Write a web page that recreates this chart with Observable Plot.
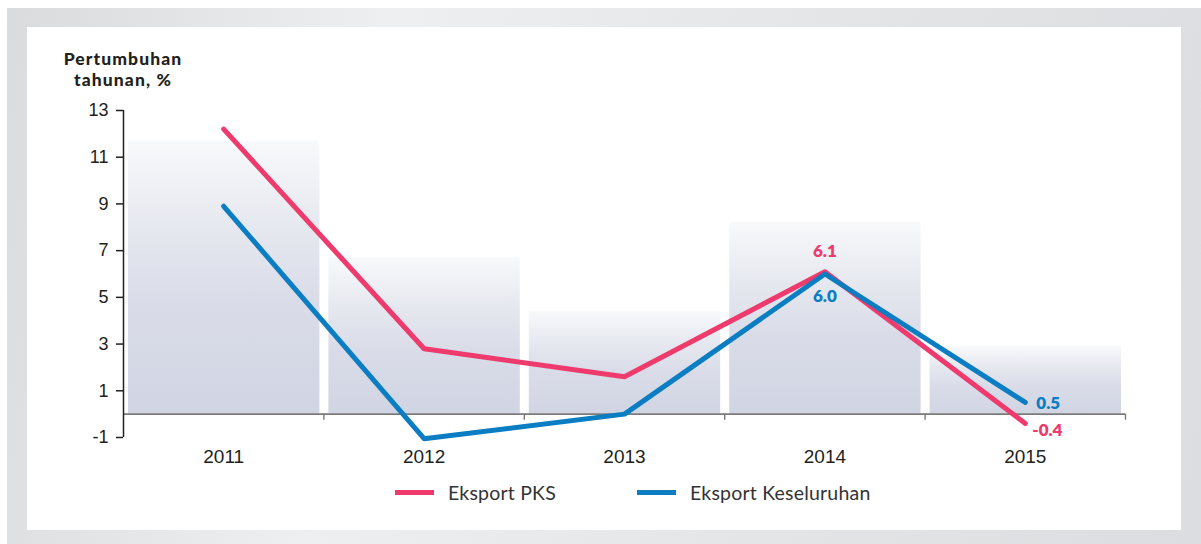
<!DOCTYPE html>
<html>
<head>
<meta charset="utf-8">
<script src="https://cdn.jsdelivr.net/npm/d3@7"></script>
<script src="https://cdn.jsdelivr.net/npm/@observablehq/plot@0.6"></script>
<style>
  html, body { margin: 0; padding: 0; background: #fff; }
  #wrap { position: relative; width: 1201px; height: 544px; overflow: hidden; }
  #frame { position: absolute; left: 7px; top: 8px; right: 0; bottom: 0;
    background: linear-gradient(100deg, #dadbdd 0%, #eeeff0 30%, #e4e5e7 65%, #dcdde0 100%); }
  #panel { position: absolute; left: 27px; top: 27px; width: 1154px; height: 503px; background: #fff; }
  .title { position: absolute; left: 48px; width: 150px; text-align: center; height: 21px;
    font-family: Lato, sans-serif; font-weight: 900; font-size: 17.5px; line-height: 21px; color: #231f20; letter-spacing: 1.1px; }
  #chart { position: absolute; left: 0; top: 0; }
  #legend { position: absolute; left: 0; top: 480px; width: 1201px; height: 24px;
    font-family: Lato, sans-serif; font-size: 19.5px; color: #333; letter-spacing: 0.2px; }
  .item { position: absolute; top: 0; display: flex; align-items: center; height: 24px; }
  .sw { display: inline-block; width: 39px; height: 5px; margin-right: 14px; }
</style>
</head>
<body>
<div id="wrap">
  <div id="frame"></div>
  <div id="panel"></div>
  <div class="title" style="top:48px">Pertumbuhan</div>
  <div class="title" style="top:69px">tahunan, %</div>
  <div id="chart"></div>
  <div id="legend"></div>
</div>
<script>
// ---- data ----
const years = ["2011", "2012", "2013", "2014", "2015"];
const seriesNames = ["Eksport PKS", "Eksport Keseluruhan"];
const eksportPKS = [12.2, 2.8, 1.6, 6.1, -0.4];
const eksportKeseluruhan = [8.9, -1.05, 0.0, 6.0, 0.5];
const backgroundBars = [11.7, 6.7, 4.4, 8.2, 2.9];
const yTicks = [-1, 1, 3, 5, 7, 9, 11, 13];
const labelled = [
  {series: "Eksport PKS", year: "2014"},
  {series: "Eksport Keseluruhan", year: "2014"},
  {series: "Eksport Keseluruhan", year: "2015"},
  {series: "Eksport PKS", year: "2015"}
];

const colors = {"Eksport PKS": "#ee3a6c", "Eksport Keseluruhan": "#0a7dc3"};

const lineData = [];
years.forEach((y, i) => {
  lineData.push({i, year: y, series: seriesNames[0], value: eksportPKS[i]});
  lineData.push({i, year: y, series: seriesNames[1], value: eksportKeseluruhan[i]});
});
const barData = years.map((y, i) => ({i, year: y, value: backgroundBars[i]}));
const bounds = years.map((y, i) => i + 0.5);

const W = 1201, H = 544;
const mTop = 110, mBottom = 107, mLeft = 123, mRight = 76;
const pxPerUnit = (H - mTop - mBottom) / 14;
const tickLenUnits = 6 / pxPerUnit;

const labelStyle = {
  "Eksport PKS|2014": {dx: 0, dy: -20, anchor: "middle"},
  "Eksport Keseluruhan|2014": {dx: 0, dy: 23, anchor: "middle"},
  "Eksport Keseluruhan|2015": {dx: 11, dy: 1, anchor: "start"},
  "Eksport PKS|2015": {dx: 7, dy: 7, anchor: "start"}
};
const labelData = labelled.map(l => {
  const d = lineData.find(r => r.series === l.series && r.year === l.year);
  return {...d, key: l.series + "|" + l.year};
});

function gradientDefs() {
  const ns = "http://www.w3.org/2000/svg";
  const defs = document.createElementNS(ns, "defs");
  const g = document.createElementNS(ns, "linearGradient");
  g.setAttribute("id", "barGrad");
  g.setAttribute("x1", "0"); g.setAttribute("y1", "0");
  g.setAttribute("x2", "0"); g.setAttribute("y2", "1");
  [[0, "#f8f9fb"], [0.3, "#e7e9f0"], [0.6, "#d9dce8"], [1, "#d1d5e3"]].forEach(([o, c]) => {
    const s = document.createElementNS(ns, "stop");
    s.setAttribute("offset", o); s.setAttribute("stop-color", c);
    g.appendChild(s);
  });
  defs.appendChild(g);
  return defs;
}

const textMarks = labelData.map(d => {
  const st = labelStyle[d.key];
  return Plot.text([d], {
    x: "i", y: "value", text: r => r.value.toFixed(1),
    fill: colors[d.series], dx: st.dx, dy: st.dy, textAnchor: st.anchor,
    fontSize: 17, fontWeight: 800, fontFamily: "Lato, sans-serif"
  });
});

const chart = Plot.plot({
  width: W, height: H,
  marginTop: mTop, marginBottom: mBottom, marginLeft: mLeft, marginRight: mRight,
  style: {background: "transparent", overflow: "visible"},
  x: {type: "linear", domain: [-0.5, years.length - 0.5], axis: null},
  y: {domain: [-1, 13], axis: null},
  marks: [
    gradientDefs,
    Plot.rectY(barData, {x1: d => d.i - 0.5, x2: d => d.i + 0.5, y1: 0, y2: "value",
      insetLeft: 5, insetRight: 4, fill: "url(#barGrad)"}),
    Plot.ruleY([0], {stroke: "#7a7a7a", strokeWidth: 1.6}),
    Plot.ruleX(bounds, {y1: 0, y2: -tickLenUnits, stroke: "#7a7a7a", strokeWidth: 1.4}),
    Plot.ruleX([-0.5], {stroke: "#231f20", strokeWidth: 1.5}),
    Plot.axisY({ticks: yTicks, tickSize: 7, tickPadding: 8, tickFormat: d => String(d),
      fontSize: 18, fontFamily: "'Liberation Sans', Arial, sans-serif", color: "#231f20",
      stroke: "#231f20", strokeWidth: 1.5, label: null}),
    Plot.text(years, {x: (d, i) => i, y: -1, text: d => d, dy: 19,
      fontSize: 19, fontFamily: "'Liberation Sans', Arial, sans-serif", fill: "#231f20"}),
    Plot.line(lineData, {x: "i", y: "value", z: "series", stroke: d => colors[d.series],
      strokeWidth: 5, strokeLinecap: "round", strokeLinejoin: "round"}),
    ...textMarks
  ]
});
document.getElementById("chart").appendChild(chart);

// legend
const legend = document.getElementById("legend");
const legendPos = {"Eksport PKS": 395, "Eksport Keseluruhan": 637};
seriesNames.forEach(name => {
  const it = document.createElement("div");
  it.className = "item";
  it.style.left = legendPos[name] + "px";
  const sw = document.createElement("span");
  sw.className = "sw";
  sw.style.background = colors[name];
  const tx = document.createElement("span");
  tx.textContent = name;
  it.appendChild(sw); it.appendChild(tx);
  legend.appendChild(it);
});
</script>
</body>
</html>
